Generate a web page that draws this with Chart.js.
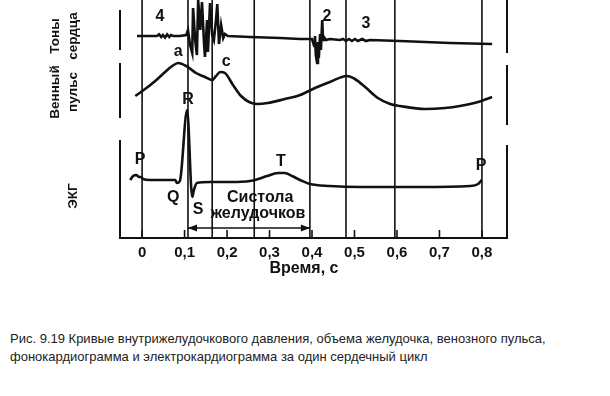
<!DOCTYPE html>
<html>
<head>
<meta charset="utf-8">
<script src="https://cdn.jsdelivr.net/npm/chart.js@4.4.1/dist/chart.umd.min.js"></script>
<style>
  body { margin: 0; background: #fff; }
  #wrap { position: absolute; left: 0; top: 0; width: 610px; height: 300px; }
  #caption { position: absolute; left: 10px; top: 330px; font: 13px 'Liberation Sans', Arial, sans-serif; line-height: 18px; color: #222; }
</style>
</head>
<body>
<div id="wrap"><canvas id="myChart"></canvas></div>
<div id="caption">Рис. 9.19 Кривые внутрижелудочкового давления, объема желудочка, венозного пульса,<br>фонокардиограмма и электрокардиограмма за один сердечный цикл</div>
<script>
// time axis, s
const tickValues = [0, 0.1, 0.2, 0.3, 0.4, 0.5, 0.6, 0.7, 0.8];
const tickLabels = ['0', '0,1', '0,2', '0,3', '0,4', '0,5', '0,6', '0,7', '0,8'];
const eventTimes = [0, 0.108, 0.165, 0.264, 0.395, 0.48, 0.595, 0.8];

// heart sounds (phonocardiogram)
const soundT = [-0.012, 0.019, 0.035, 0.040, 0.045, 0.049, 0.054, 0.059, 0.064, 0.068, 0.073, 0.089, 0.104,
  0.108, 0.113, 0.118, 0.120, 0.125, 0.129, 0.132, 0.137, 0.141, 0.146, 0.148, 0.153, 0.155, 0.160, 0.165,
  0.169, 0.174, 0.177, 0.181, 0.186, 0.191, 0.195, 0.202, 0.254, 0.325, 0.372, 0.400, 0.402, 0.405, 0.407,
  0.409, 0.412, 0.414, 0.416, 0.419, 0.421, 0.424, 0.426, 0.428, 0.433, 0.442, 0.466, 0.473, 0.480, 0.487,
  0.494, 0.501, 0.508, 0.518, 0.527, 0.536, 0.607, 0.725, 0.824];
const soundV = [101, 101, 101, 101.8, 100.5, 101.5, 100.2, 101.8, 100.5, 101.5, 101, 101, 101.5,
  104, 96.5, 92.5, 115, 99, 91.5, 119, 104, 118, 96.5, 90.5, 109, 93, 117.5, 101.5,
  99, 109, 117, 97, 106.5, 100, 102, 101, 100.5, 100, 99.5, 99.5, 99.5, 96, 101,
  91.5, 87.5, 98, 90, 102, 94, 109, 99, 100.5, 99, 99.5, 99, 99.5, 98.5, 99.5,
  98.5, 99.5, 98.5, 99.5, 98.5, 99, 98.5, 97.5, 97];

// venous pulse
const pulseT = [-0.016, 0.007, 0.031, 0.054, 0.071, 0.085, 0.104, 0.127, 0.148, 0.165, 0.174, 0.184, 0.195,
  0.214, 0.233, 0.252, 0.271, 0.296, 0.336, 0.372, 0.407, 0.442, 0.482, 0.501, 0.525, 0.555, 0.584, 0.607,
  0.666, 0.713, 0.748, 0.791, 0.824];
const pulseV = [71, 74.5, 78.5, 83, 86, 87.5, 86, 82.5, 80.5, 79, 81, 83, 82.5,
  76.5, 71, 68, 67, 67.5, 69.5, 71.5, 75, 78, 81, 79.5, 75.5, 70, 67, 66,
  64.5, 65, 66, 68, 70.5];

// ECG
const ecgT = [-0.028, -0.021, -0.014, -0.007, -0.002, 0.002, 0.019, 0.054, 0.078, 0.082, 0.089, 0.106, 0.118,
  0.122, 0.129, 0.160, 0.207, 0.254, 0.273, 0.294, 0.320, 0.336, 0.353, 0.372, 0.395, 0.442, 0.513, 0.654,
  0.772, 0.791, 0.800];
const ecgV = [29, 31, 31.5, 30.5, 30.5, 29.5, 29, 29, 29, 27.5, 28.5, 64, 20.5,
  24, 27.5, 28, 28, 28.5, 29.5, 31, 32.5, 32.5, 31, 29, 27, 26, 25.5, 25.5,
  26, 27, 29];

// letter marks on the curves
const markText = ['4', '2', '3', 'a', 'c', 'R', 'P', 'Q', 'S', 'T', 'P'];
const markT = [0.042, 0.435, 0.527, 0.085, 0.198, 0.108, -0.005, 0.073, 0.132, 0.327, 0.798];
const markV = [110.5, 110.5, 107, 93, 88, 69, 39, 20, 14, 38, 36];

// systole span
const systole = [0.108, 0.395];

const toXY = (ts, vs) => ts.map((t, i) => ({ x: t, y: vs[i] }));

const extras = {
  id: 'extras',
  beforeDatasetsDraw(chart) {
    const { ctx, chartArea: a, scales: { x, y } } = chart;
    ctx.save();
    ctx.strokeStyle = '#111';
    ctx.lineWidth = 1.6;
    eventTimes.forEach(t => {
      const px = x.getPixelForValue(t);
      ctx.beginPath(); ctx.moveTo(px, a.top); ctx.lineTo(px, a.bottom); ctx.stroke();
    });
    tickValues.forEach(t => {
      const px = x.getPixelForValue(t);
      ctx.beginPath(); ctx.moveTo(px, a.bottom); ctx.lineTo(px, a.bottom - 8); ctx.stroke();
    });
    // side brackets for each trace
    ctx.lineWidth = 2;
    [[114, 94], [87.5, 60], [49, 0]].forEach(([v1, v2]) => {
      ctx.beginPath(); ctx.moveTo(a.left, y.getPixelForValue(v1)); ctx.lineTo(a.left, y.getPixelForValue(v2)); ctx.stroke();
    });
    [[119, 92.5], [86.5, 56.5], [46.5, 0]].forEach(([v1, v2]) => {
      ctx.beginPath(); ctx.moveTo(a.right, y.getPixelForValue(v1)); ctx.lineTo(a.right, y.getPixelForValue(v2)); ctx.stroke();
    });
    ctx.restore();
  },
  afterDatasetsDraw(chart) {
    const { ctx, chartArea: a, scales: { x, y } } = chart;
    ctx.save();
    ctx.fillStyle = '#111';
    ctx.strokeStyle = '#111';
    ctx.textAlign = 'center';
    ctx.textBaseline = 'middle';
    ctx.font = 'bold 16px "Liberation Sans", Arial, sans-serif';
    markText.forEach((s, i) => ctx.fillText(s, x.getPixelForValue(markT[i]), y.getPixelForValue(markV[i])));
    ctx.fillText('Систола', x.getPixelForValue(0.278), y.getPixelForValue(20));
    ctx.fillText('желудочков', x.getPixelForValue(0.273), y.getPixelForValue(12));
    ctx.fillText('Время, с', 304, a.bottom + 31);

    // double arrow
    const ay = y.getPixelForValue(5);
    const x1 = x.getPixelForValue(systole[0]), x2 = x.getPixelForValue(systole[1]);
    ctx.lineWidth = 1.6;
    ctx.beginPath(); ctx.moveTo(x1, ay); ctx.lineTo(x2, ay); ctx.stroke();
    ctx.beginPath(); ctx.moveTo(x1, ay); ctx.lineTo(x1 + 9, ay - 3.5); ctx.lineTo(x1 + 9, ay + 3.5); ctx.closePath(); ctx.fill();
    ctx.beginPath(); ctx.moveTo(x2, ay); ctx.lineTo(x2 - 9, ay - 3.5); ctx.lineTo(x2 - 9, ay + 3.5); ctx.closePath(); ctx.fill();

    // rotated trace names
    ctx.font = 'bold 13.5px "Liberation Sans", Arial, sans-serif';
    const side = (lines, v) => {
      ctx.save();
      ctx.translate(a.left - 56, y.getPixelForValue(v));
      ctx.rotate(-Math.PI / 2);
      lines.forEach((s, i) => ctx.fillText(s, 0, (i - (lines.length - 1) / 2) * 18));
      ctx.restore();
    };
    side(['Тоны', 'сердца'], 101);
    side(['Венный', 'пульс'], 73);
    ctx.save();
    ctx.translate(a.left - 47, y.getPixelForValue(21));
    ctx.rotate(-Math.PI / 2);
    ctx.fillText('ЭКГ', 0, 0);
    ctx.restore();
    ctx.restore();
  }
};

const line = (data, smooth) => ({
  data, borderColor: '#111', borderWidth: 2.6, pointRadius: 0,
  cubicInterpolationMode: smooth ? 'monotone' : 'default', tension: 0, clip: false
});

new Chart(document.getElementById('myChart'), {
  type: 'line',
  data: {
    datasets: [
      line(toXY(soundT, soundV), false),
      line(toXY(pulseT, pulseV), true),
      line(toXY(ecgT, ecgV), true)
    ]
  },
  options: {
    responsive: true,
    maintainAspectRatio: false,
    animation: false,
    layout: { padding: { left: 120, right: 103, top: 0, bottom: 22 } },
    plugins: { legend: { display: false }, tooltip: { enabled: false } },
    scales: {
      x: {
        type: 'linear', min: -0.052, max: 0.859,
        afterBuildTicks: s => { s.ticks = tickValues.map(v => ({ value: v })); },
        afterFit: s => { s.height = 40; },
        grid: { display: false, drawTicks: false },
        border: { display: true, color: '#111', width: 2 },
        ticks: {
          padding: 6, color: '#111', maxRotation: 0, autoSkip: false,
          font: { family: '"Liberation Sans", Arial, sans-serif', size: 15, weight: 'bold' },
          callback: (v, i) => tickLabels[i]
        }
      },
      y: { display: false, min: 0, max: 119 }
    }
  },
  plugins: [extras]
});
</script>
</body>
</html>
